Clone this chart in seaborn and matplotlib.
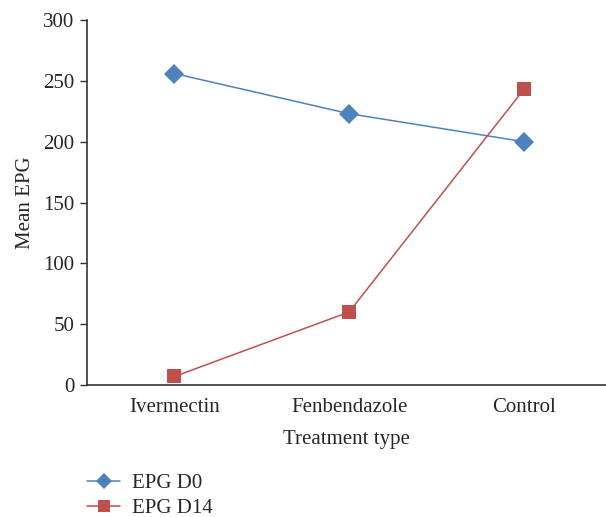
import matplotlib as mpl
import matplotlib.pyplot as plt
import numpy as np
import pandas as pd
import seaborn as sns

sns.set_style('white')
plt.rcParams['font.family'] = ['Liberation Serif', 'DejaVu Serif']

treatments = ['Ivermectin', 'Fenbendazole', 'Control']
epg_d0 = [256, 223, 200]
epg_d14 = [7, 60, 243]

df = pd.DataFrame({
    'Treatment type': treatments * 2,
    'Mean EPG': epg_d0 + epg_d14,
    'series': ['EPG D0'] * 3 + ['EPG D14'] * 3,
})
df['x'] = df['Treatment type'].map({t: i for i, t in enumerate(treatments)})

fig = plt.figure(figsize=(6.06, 5.17), dpi=100)
ax = fig.add_axes([0.1436, 0.2553, 0.8564, 0.706])

sns.lineplot(data=df, x='x', y='Mean EPG', hue='series', style='series',
             markers={'EPG D0': 'D', 'EPG D14': 's'}, dashes=False,
             palette={'EPG D0': '#4F81BD', 'EPG D14': '#C0504D'},
             markersize=10, markeredgewidth=0, linewidth=1.1, ax=ax)

ax.set_xlim(-0.5, 2.47)
ax.set_ylim(0, 300)
ax.set_yticks(np.arange(0, 301, 50))
ax.set_xticks(range(len(treatments)))
ax.set_xticklabels(treatments)
ax.tick_params(axis='y', direction='out', length=5, width=1, color='#333333',
               labelsize=15, pad=4, left=True)
ax.tick_params(axis='x', length=0, labelsize=15, pad=9)
for s in ['top', 'right']:
    ax.spines[s].set_visible(False)
for s in ['left', 'bottom']:
    ax.spines[s].set_color('#333333')
    ax.spines[s].set_linewidth(1.2)
ax.set_xlabel('Treatment type', fontsize=15, labelpad=10)
ax.set_ylabel('Mean EPG', fontsize=15, labelpad=6)

leg = ax.legend(loc='upper left', bbox_to_anchor=(0.0, -0.242), frameon=False,
                fontsize=15, handlelength=1.6, handletextpad=0.55,
                labelspacing=0.28, borderaxespad=0, borderpad=0)
for h in leg.legend_handles:
    h.set_markersize(8)

plt.savefig('out.png', dpi=100, facecolor='w')
